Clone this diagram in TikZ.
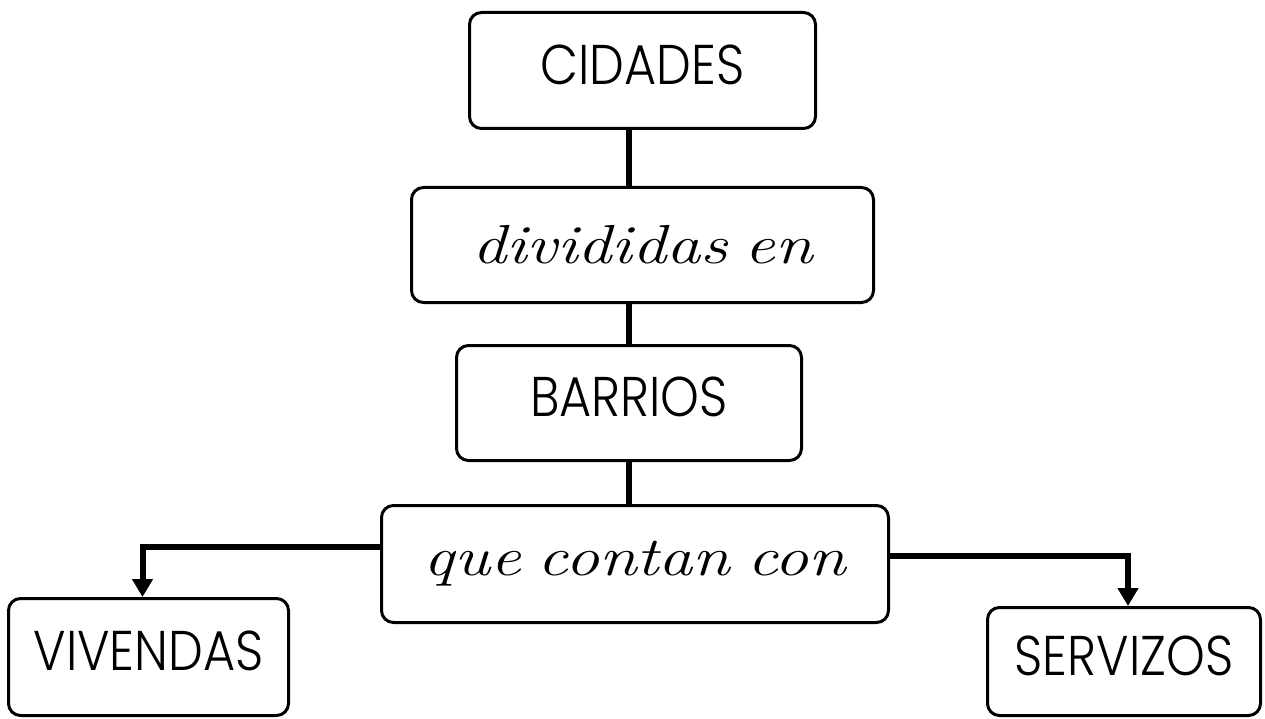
\documentclass[tikz,border=0pt]{standalone}
\usepackage{fontspec}
\usepackage{tikz}
\usetikzlibrary{positioning, arrows.meta}
\newfontfamily\capsfont{Poppins Light}[FakeStretch=0.88]
\newfontfamily\linkfont{Latin Modern Roman}[FakeStretch=1.24, WordSpace=0.7]

\begin{document}
\begin{tikzpicture}[
    x=1pt, y=1pt,
    node distance=40pt,
    box/.style={rectangle, draw, line width=3pt, rounded corners=12pt, align=center, inner sep=0pt},
    title/.style={box, text depth=12pt, font=\capsfont\fontsize{56}{60}\selectfont},
    link/.style={box, font=\linkfont\itshape\fontsize{55}{60}\selectfont},
    leaf/.style={title},
    conn/.style={line width=6pt},
    arr/.style={conn, -{Triangle[length=18pt, width=20pt]}}
]

\useasboundingbox (0,0) rectangle (1265,-719);

% Root node
\node[title, minimum width=346pt, minimum height=116pt] (cidades) at (642.5,-70.5) {CIDADES};

% Chain below the root
\node[link, minimum width=462pt, minimum height=115pt, below=56pt of cidades] (divididas) {divididas en};
\node[title, minimum width=345pt, minimum height=115pt, below=40pt of divididas, xshift=-13.5pt] (barrios) {BARRIOS};
\node[link, minimum width=507pt, minimum height=117pt, below=42pt of barrios, xshift=6pt] (contan) {que contan con};

% Leaves
\node[leaf, minimum width=280pt, minimum height=117pt] (vivendas) at (148.5,-657) {VIVENDAS};
\node[leaf, minimum width=273pt, minimum height=108pt] (servizos) at (1124,-661.5) {SERVIZOS};

% Edges
\draw[conn] (cidades.south -| barrios.north) -- (divididas.north -| barrios.north);
\draw[conn] (divididas.south -| barrios.north) -- (barrios.north);
\draw[conn] (barrios.south) -- (barrios.south |- contan.north);
\draw[arr] ([yshift=17pt]contan.west) -| ([xshift=-6pt]vivendas.north);
\draw[arr] ([yshift=8pt]contan.east) -| ([xshift=4pt]servizos.north);

\end{tikzpicture}
\end{document}
